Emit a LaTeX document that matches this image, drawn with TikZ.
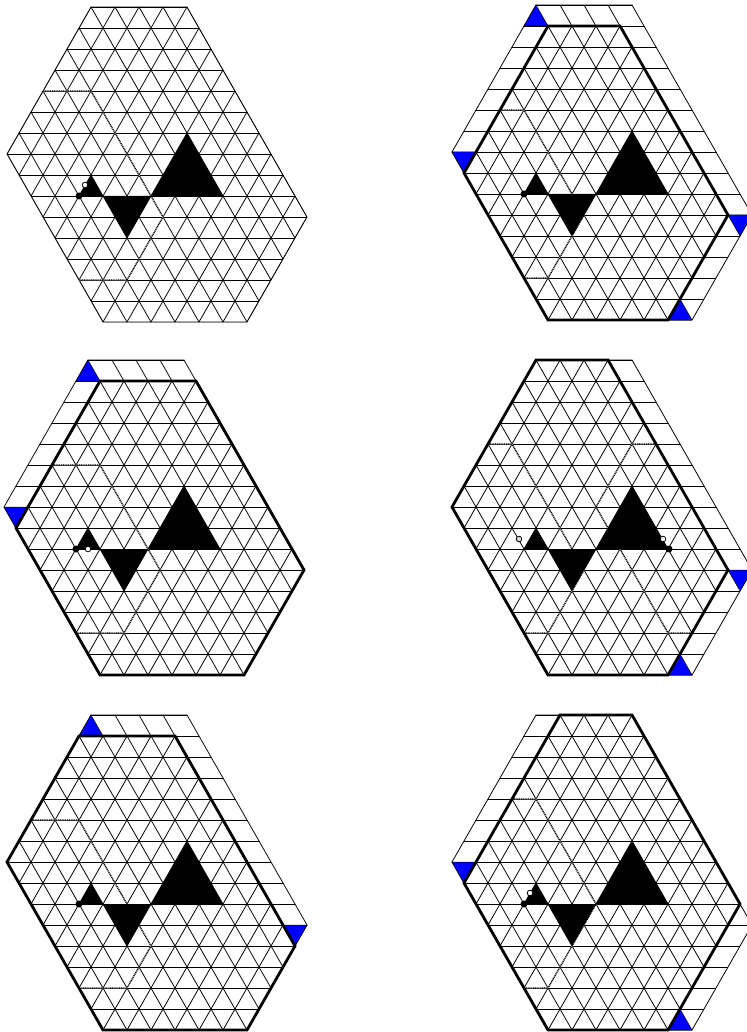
\documentclass[tikz,border=0pt]{standalone}
\tikzset{x=1pt,y=-1pt}
\tikzstyle{gridline} = [black, line width=0.8pt]
\tikzstyle{outline} = [black, line width=2.8pt, line join=miter]
\tikzstyle{dotpath} = [black, line width=1.3pt, dash pattern=on 1pt off 0.8pt,
  preaction={draw=white, solid, line width=0.9pt}]
\tikzstyle{corner} = [draw=black, line width=0.5pt, fill=blue]
\tikzstyle{blackdot} = [fill=black]
\tikzstyle{whitedot} = [draw=black, fill=white, line width=0.8pt]

% #1: hexagon inside which the full lattice is drawn
\newcommand{\hexgrid}[1]{
  \begin{scope}
    \clip (91,7) -- (187,7) -- (307,217) -- (247,322) -- (103,322) -- (7,154) -- cycle;
    \foreach \r in {0,...,15}
      \draw [gridline] (0,7+21*\r) -- (320,7+21*\r);
  \end{scope}
  \draw [gridline] (91,7) -- (187,7) -- (307,217) -- (247,322) -- (103,322) -- (7,154) -- cycle;
  \begin{scope}
    \clip #1 -- cycle;
    \foreach \k in {-7,...,4}
      \draw [gridline] (91+24*\k,7) -- (271+24*\k,322);
    \foreach \k in {0,...,14}
      \draw [gridline] (91+24*\k,7) -- (-89+24*\k,322);
  \end{scope}
}
% the crossing lines of the strip along the top
\newcommand{\topstrip}{
  \foreach \x in {115,139,163}
    \draw [gridline] (\x,7) -- (\x+12,28);
}
\newcommand{\motif}{
  \fill [black] (79,196) -- (103,196) -- (91,175) -- cycle;
  \fill [black] (103,196) -- (151,196) -- (127,238) -- cycle;
  \fill [black] (151,196) -- (223,196) -- (187,133) -- cycle;
}

\begin{document}
\begin{tikzpicture}
  \useasboundingbox (0,0) rectangle (746,1032);

  % top left
  \hexgrid{(91,7) -- (187,7) -- (307,217) -- (247,322) -- (103,322) -- (7,154)}
  \draw [dotpath] (43,91) -- (91,91) -- (163,217) -- (127,280) -- (79,280);
  \motif
  \fill [blackdot] (79,196) circle (3.5);
  \draw [whitedot] (85,185) circle (2.8);

  % top right
  \begin{scope}[shift={(445,-2)}]
    \hexgrid{(103,28) -- (175,28) -- (283,217) -- (223,322) -- (103,322) -- (19,175)}
    \topstrip
    \draw [dotpath] (55,112) -- (79,112) -- (139,217) -- (103,280) -- (79,280);
    \motif
    \fill [blackdot] (79,196) circle (3.5);
    \draw [corner] (91,7) -- (79,28) -- (103,28) -- cycle;
    \draw [corner] (7,154) -- (31,154) -- (19,175) -- cycle;
    \draw [corner] (283,217) -- (307,217) -- (295,238) -- cycle;
    \draw [corner] (223,322) -- (247,322) -- (235,301) -- cycle;
    \draw [outline] (103,28) -- (175,28) -- (283,217) -- (223,322) -- (103,322) -- (19,175) -- cycle;
  \end{scope}

  % middle left
  \begin{scope}[shift={(-3,353)}]
    \hexgrid{(103,28) -- (199,28) -- (307,217) -- (247,322) -- (103,322) -- (19,175)}
    \topstrip
    \draw [dotpath] (55,112) -- (103,112) -- (163,217) -- (127,280) -- (79,280);
    \motif
    \fill [blackdot] (79,196) circle (3.5);
    \draw [whitedot] (91,196) circle (2.8);
    \draw [corner] (91,7) -- (79,28) -- (103,28) -- cycle;
    \draw [corner] (7,154) -- (31,154) -- (19,175) -- cycle;
    \draw [outline] (103,28) -- (199,28) -- (307,217) -- (247,322) -- (103,322) -- (19,175) -- cycle;
  \end{scope}

  % middle right
  \begin{scope}[shift={(445,353)}]
    \hexgrid{(91,7) -- (163,7) -- (283,217) -- (223,322) -- (103,322) -- (7,154)}
    \draw [dotpath] (43,91) -- (67,91) -- (139,217) -- (103,280) -- (79,280);
    \draw [dotpath] (211,91) -- (187,91) -- (151,154) -- (223,280) -- (247,280);
    \motif
    \fill [blackdot] (224,196) circle (3.5);
    \draw [whitedot] (218,186) circle (2.8);
    \draw [whitedot, fill=black!15] (74,186) circle (2.8);
    \draw [corner] (283,217) -- (307,217) -- (295,238) -- cycle;
    \draw [corner] (223,322) -- (247,322) -- (235,301) -- cycle;
    \draw [outline] (91,7) -- (163,7) -- (283,217) -- (223,322) -- (103,322) -- (7,154) -- cycle;
  \end{scope}

  % bottom left
  \begin{scope}[shift={(0,708)}]
    \hexgrid{(79,28) -- (175,28) -- (295,238) -- (247,322) -- (103,322) -- (7,154)}
    \topstrip
    \draw [dotpath] (31,112) -- (79,112) -- (151,238) -- (127,280) -- (79,280);
    \motif
    \fill [blackdot] (79,196) circle (3.5);
    \draw [corner] (91,7) -- (79,28) -- (103,28) -- cycle;
    \draw [corner] (283,217) -- (307,217) -- (295,238) -- cycle;
    \draw [outline] (79,28) -- (175,28) -- (295,238) -- (247,322) -- (103,322) -- (7,154) -- cycle;
  \end{scope}

  % bottom right
  \begin{scope}[shift={(445,708)}]
    \hexgrid{(115,7) -- (187,7) -- (295,196) -- (223,322) -- (103,322) -- (19,175)}
    \draw [dotpath] (67,91) -- (91,91) -- (151,196) -- (103,280) -- (79,280);
    \motif
    \fill [blackdot] (79,196) circle (3.5);
    \draw [whitedot] (85,185) circle (2.8);
    \draw [corner] (7,154) -- (31,154) -- (19,175) -- cycle;
    \draw [corner] (223,322) -- (247,322) -- (235,301) -- cycle;
    \draw [outline] (115,7) -- (187,7) -- (295,196) -- (223,322) -- (103,322) -- (19,175) -- cycle;
  \end{scope}
\end{tikzpicture}
\end{document}
